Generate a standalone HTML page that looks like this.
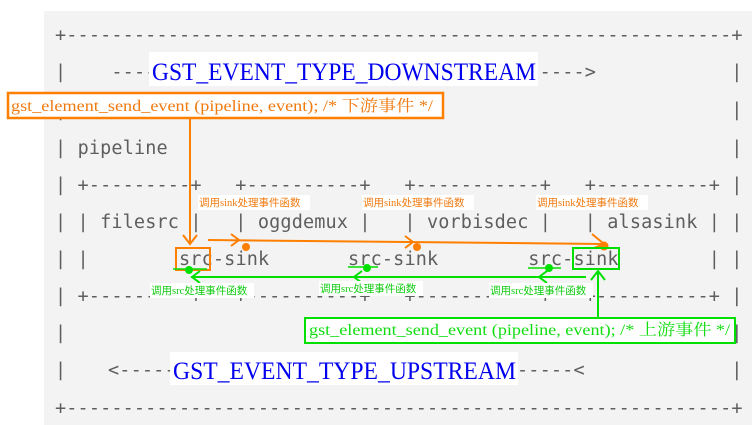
<!DOCTYPE html>
<html><head><meta charset="utf-8"><style>
html,body{margin:0;padding:0;background:#fff;}
svg{display:block}
.m{font-family:"DejaVu Sans Mono","Liberation Mono",monospace;font-size:18.5px;fill:#5e5e5e}
.b{font-family:"Liberation Serif",serif;font-size:25px;fill:#0000ee}
.o{font-family:"Liberation Serif","Noto Serif CJK SC",serif;font-size:16px;fill:#f07a10}
.g{font-family:"Liberation Serif","Noto Serif CJK SC",serif;font-size:16px;fill:#11dd11}
.so{font-family:"Liberation Serif","Noto Sans CJK SC",sans-serif;font-size:10.5px;fill:#f07a10}
.sg{font-family:"Liberation Serif","Noto Sans CJK SC",sans-serif;font-size:10.5px;fill:#11cc11}
</style></head><body>
<svg width="756" height="425" viewBox="0 0 756 425" xmlns="http://www.w3.org/2000/svg">
<rect x="44" y="11" width="708" height="414" fill="#f3f3f3"/>
<g class="m" lengthAdjust="spacing">
<text x="55" y="41" textLength="687.5">+-----------------------------------------------------------+</text>
<text x="55" y="78">|</text><text x="111.35" y="78" textLength="45.1">----</text><text x="539.6" y="78" textLength="56.35">----&gt;</text><text x="731.2" y="78">|</text>
<text x="55" y="116">|</text><text x="731.2" y="116">|</text>
<text x="55" y="154" textLength="112.7">| pipeline</text><text x="731.2" y="154">|</text>
<text x="55" y="191">|</text><text x="77.5" y="191" textLength="124">+---------+</text><text x="235.3" y="191" textLength="135.2">+----------+</text><text x="404.4" y="191" textLength="146.5">+-----------+</text><text x="584.7" y="191" textLength="135.2">+----------+</text><text x="731.2" y="191">|</text>
<text x="55" y="228">|</text><text x="77.5" y="228" textLength="124">| filesrc |</text><text x="235.3" y="228" textLength="135.2">| oggdemux |</text><text x="404.4" y="228" textLength="146.5">| vorbisdec |</text><text x="584.7" y="228" textLength="135.2">| alsasink |</text><text x="731.2" y="228">|</text>
<text x="55" y="265">|</text><text x="77.5" y="265">|</text><text x="179" y="265" textLength="90.2">src-sink</text><text x="348" y="265" textLength="90.2">src-sink</text><text x="528.3" y="265" textLength="90.2">src-sink</text><text x="708.7" y="265">|</text><text x="731.2" y="265">|</text>
<text x="55" y="302">|</text><text x="77.5" y="302" textLength="124">+---------+</text><text x="235.3" y="302" textLength="135.2">+----------+</text><text x="404.4" y="302" textLength="146.5">+-----------+</text><text x="584.7" y="302" textLength="135.2">+----------+</text><text x="731.2" y="302">|</text>
<text x="55" y="339">|</text><text x="731.2" y="339">|</text>
<text x="55" y="376">|</text><text x="108" y="376" textLength="67.6">&lt;-----</text><text x="517" y="376" textLength="67.6">-----&lt;</text><text x="731.2" y="376">|</text>
<text x="55" y="414" textLength="687.5">+-----------------------------------------------------------+</text>
</g>
<!-- blue labels -->
<rect x="149" y="52" width="389" height="34" fill="#fff"/>
<text class="b" x="152" y="80" textLength="384" lengthAdjust="spacingAndGlyphs">GST_EVENT_TYPE_DOWNSTREAM</text>
<rect x="170" y="352" width="348" height="33" fill="#fff"/>
<text class="b" x="173" y="379" textLength="343" lengthAdjust="spacingAndGlyphs">GST_EVENT_TYPE_UPSTREAM</text>
<!-- orange box -->
<rect x="8" y="93" width="435" height="25" fill="#fff" stroke="#ff7f00" stroke-width="2.5"/>
<text class="o" x="11" y="111" textLength="422" lengthAdjust="spacingAndGlyphs">gst_element_send_event (pipeline, event); /* 下游事件 */</text>
<!-- green box -->
<rect x="305" y="318" width="430" height="25" fill="#fff" stroke="#00e000" stroke-width="2"/>
<text class="g" x="309" y="335" textLength="421" lengthAdjust="spacingAndGlyphs">gst_element_send_event (pipeline, event); /* 上游事件 */</text>
<!-- orange connectors -->
<g stroke="#ff7f00" stroke-width="2" fill="none">
<line x1="190" y1="119" x2="190" y2="243"/>
<polyline points="183,235 190,244 197,235"/>
<rect x="176" y="248" width="34" height="22"/>
<line x1="208" y1="240" x2="604" y2="244"/>
<polyline points="231,234 239,240 231,246"/>
<polyline points="405,236 413,242 405,248"/>
<polyline points="592,234 604,244 594,248"/>
</g>
<g fill="#ff7f00">
<circle cx="246" cy="247" r="4"/><circle cx="417" cy="247" r="4"/><circle cx="604" cy="246" r="4.5"/>
</g>
<g>
<rect x="198" y="195" width="112" height="15" fill="#fff"/>
<text class="so" x="199" y="206">调用sink处理事件函数</text>
<rect x="362" y="195" width="112" height="15" fill="#fff"/>
<text class="so" x="363" y="206">调用sink处理事件函数</text>
<rect x="536" y="195" width="112" height="15" fill="#fff"/>
<text class="so" x="537" y="206">调用sink处理事件函数</text>
</g>
<!-- green connectors -->
<g stroke="#00e000" stroke-width="2" fill="none">
<rect x="573" y="248" width="46" height="21"/>
<line x1="586" y1="277" x2="191" y2="277"/>
<polyline points="200,271 192,277 200,283"/>
<polyline points="362,271 354,277 362,283"/>
<polyline points="547,271 539,277 547,283"/>
<line x1="598" y1="271" x2="598" y2="318"/>
<polyline points="591,280 598,271 605,280"/>
<line x1="173" y1="269" x2="207" y2="269" stroke-width="1.5"/>
<line x1="348" y1="267" x2="378" y2="267" stroke-width="1.5"/>
<line x1="528" y1="268" x2="561" y2="268" stroke-width="1.5"/>
</g>
<g fill="#00e000">
<circle cx="189" cy="270" r="4"/><circle cx="367" cy="268" r="4"/><circle cx="549" cy="268" r="4"/>
</g>
<g>
<rect x="150" y="283" width="104" height="15" fill="#fff"/>
<text class="sg" x="151" y="294">调用src处理事件函数</text>
<rect x="319" y="281" width="104" height="15" fill="#fff"/>
<text class="sg" x="320" y="292">调用src处理事件函数</text>
<rect x="489" y="283" width="104" height="15" fill="#fff"/>
<text class="sg" x="490" y="294">调用src处理事件函数</text>
</g>
</svg>
</body></html>
